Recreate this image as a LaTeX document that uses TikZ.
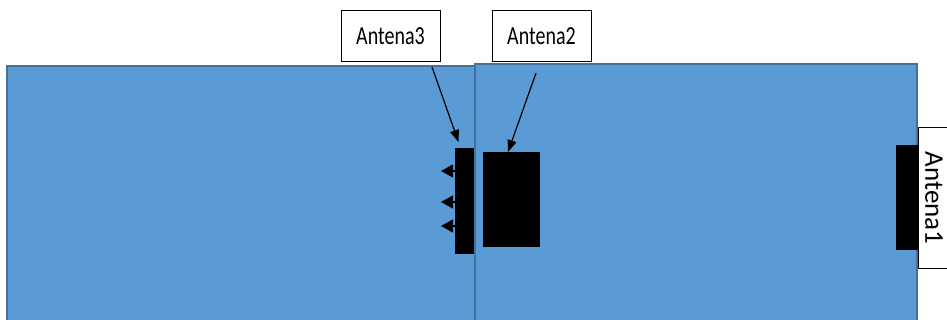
\documentclass[tikz,border=0pt]{standalone}
\usepackage{fontspec}
\setmainfont{Carlito}
\usetikzlibrary{arrows.meta}
\definecolor{wallfill}{HTML}{5B9BD5}
\definecolor{wallline}{HTML}{41719C}
\tikzset{
  wall/.style={fill=wallfill,draw=wallline,line width=2.5pt},
  antblock/.style={fill=black,draw=none},
  labelbox/.style={draw=black,fill=white,line width=1pt,minimum width=99pt,minimum height=51pt,inner sep=0pt,font=\fontsize{20}{20}\selectfont},
  ptr/.style={line width=1.2pt,-{Triangle[length=12pt,width=9pt]}},
  wave/.style={line width=1.2pt,-{Triangle[length=12pt,width=13pt]}}
}
\begin{document}
\begin{tikzpicture}[x=1pt,y=-1pt]
\useasboundingbox (0,0) rectangle (947,320);
\draw[wall] (7,66) rectangle (475,330);
\draw[wall] (475,64) rectangle (917,330);
% antenna blocks
\node[antblock,minimum width=19pt,minimum height=106pt,inner sep=0pt] (bar3) at (464.5,201) {};
\node[antblock,minimum width=57pt,minimum height=95pt,inner sep=0pt] (blk2) at (511.5,199.5) {};
\node[antblock,minimum width=22pt,minimum height=105pt,inner sep=0pt] (bar1) at (907,197.5) {};
% labels
\node[labelbox] (lab3) at (390.5,36.5) {\scalebox{1}[1.3]{Antena3}};
\node[labelbox] (lab2) at (541.5,36.5) {\scalebox{1}[1.3]{Antena2}};
\node[draw=black,line width=1pt,minimum width=140pt,minimum height=80pt,rotate=-90,inner sep=0pt] (lab1) at (958,198) {};
\node[rotate=-90,font=\fontsize{27}{27}\selectfont,inner sep=0pt] (lab1t) at (934,198) {Antena1};
% pointers
\coordinate (p3s) at (432,67);
\coordinate (p3e) at (458.5,142);
\coordinate (p2s) at (536,73);
\coordinate (p2e) at (508,152);
\draw[ptr] (p3s) -- (p3e);
\draw[ptr] (p2s) -- (p2e);
% small waves
\foreach \yy/\nm in {171/a,202/b,226/c}{
  \coordinate (w\nm) at (bar3.west |- 0,\yy);
  \coordinate (t\nm) at (441,\yy);
  \draw[wave] (w\nm) -- (t\nm);
}
\end{tikzpicture}
\end{document}
